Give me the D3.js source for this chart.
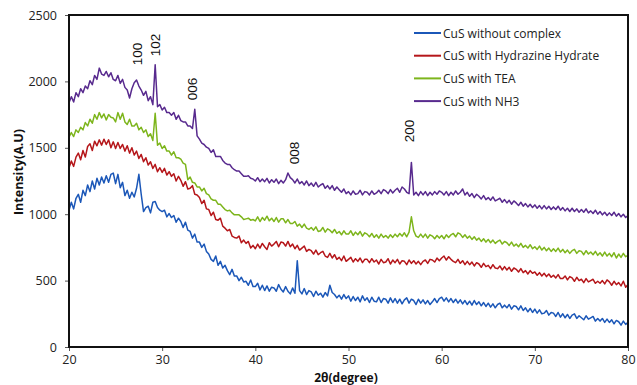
<!DOCTYPE html>
<html><head><meta charset="utf-8">
<script src="https://cdn.jsdelivr.net/npm/d3@7"></script>
<style>body{margin:0;background:#fff}svg{display:block}</style>
</head><body><div id="chart"></div>
<script>
// 2θ grid: 20 .. 80 in 0.25° steps (241 points)
const twoTheta = d3.range(0, 241).map(i => 20 + i * 0.25);

const cusWithoutComplex = [
1030,1090,1040,1120, 1150,1090,1180,1140, 1220,1170,1250,1190, 1270,1220,1280,1235,
1290,1240,1300,1310, 1230,1300,1200,1240, 1140,1180,1120,1165, 1130,1195,1300,1150,
1020,1050,1060,1010, 1090,1095,1050,1030, 1020,1030,980,1005, 975,990,940,970,
945,900,940,880, 870,820,850,790, 790,750,775,720, 700,660,645,685,
615,645,595,615, 575,545,585,535, 535,500,525,490, 495,465,505,455,
455,480,430,465, 425,460,420,450, 445,420,470,435, 415,455,420,400,
445,405,650,425, 400,440,395,425, 415,380,420,390, 405,375,410,385,
465,410,395,370, 390,360,395,365, 385,345,380,350, 375,340,385,350,
370,335,375,345, 340,375,335,365, 360,330,370,335, 365,330,360,325,
355,370,330,360, 350,320,360,330, 355,325,350,320, 340,365,335,365,
375,345,370,340, 365,335,360,330, 355,325,350,320, 345,315,350,320,
340,310,335,305, 330,300,325,295, 320,330,295,315, 295,320,285,310,
305,280,310,275, 295,265,290,260, 285,255,280,250, 255,275,240,260,
255,230,260,225, 250,220,245,215, 240,250,215,235, 220,205,235,210,
220,230,195,215, 195,215,185,210, 185,205,175,200, 190,165,195,170,
185];

const cusHydrazine = [
1350,1400,1360,1430, 1460,1410,1480,1430, 1510,1530,1480,1550, 1515,1560,1520,1565,
1525,1560,1500,1545, 1495,1540,1495,1525, 1475,1515,1460,1500, 1445,1475,1420,1450,
1395,1425,1370,1395, 1345,1375,1320,1350, 1315,1345,1295,1320, 1285,1305,1250,1285,
1255,1210,1245,1190, 1195,1215,1150,1145, 1125,1080,1105,1040, 1035,990,1015,960,
955,970,910,895, 875,885,835,825, 820,835,785,805, 780,795,745,765,
740,775,745,780, 755,735,785,760, 775,795,755,790, 785,760,795,755,
775,740,765,730, 745,760,720,735, 725,700,730,695, 710,720,685,675,
705,670,695,660, 675,650,685,645, 660,675,640,665, 645,670,635,660,
660,635,665,640, 655,625,660,635, 640,665,625,655, 635,660,625,650,
645,620,655,630, 650,625,645,620, 645,655,630,660, 655,640,670,650,
670,685,655,680, 660,645,635,660, 630,650,620,645, 620,640,610,635,
625,600,630,605, 615,590,620,595, 590,610,580,605, 580,600,570,595,
585,565,590,560, 575,550,575,555, 565,540,560,535, 555,530,550,525,
540,520,545,515, 515,535,505,530, 520,495,525,500, 510,485,515,490,
500,510,480,495, 480,500,475,505, 490,465,495,470, 485,460,495,450,
470];

const cusTEA = [
1580,1615,1585,1635, 1615,1655,1635,1690, 1665,1715,1685,1750, 1715,1765,1725,1755,
1710,1750,1730,1725, 1695,1765,1715,1760, 1695,1675,1715,1665, 1665,1685,1635,1655,
1615,1635,1585,1605, 1555,1760,1520,1535, 1495,1515,1475,1475, 1445,1470,1425,1425,
1415,1385,1375,1260, 1280,1240,1235,1205, 1205,1175,1195,1155, 1145,1115,1105,1105,
1075,1075,1055,1035, 1025,1030,1010,995, 995,995,980,960, 965,970,955,960,
950,980,945,975, 955,985,950,970, 945,975,940,965, 965,935,960,930,
930,945,910,925, 900,925,895,885, 900,880,905,870, 875,900,865,890,
880,860,885,855, 870,845,875,850, 850,875,840,865, 845,870,835,860,
850,830,855,825, 845,820,850,825, 840,820,845,825, 850,830,855,835,
860,830,865,980, 875,835,825,850, 825,850,820,845, 835,815,840,820,
840,815,845,825, 845,855,830,860, 850,825,845,820, 835,810,830,805,
820,795,815,790, 810,785,805,780, 795,805,775,795, 785,765,790,760,
775,755,780,750, 765,745,770,740, 755,735,760,730, 750,725,745,720,
740,720,745,715, 735,710,730,705, 725,735,705,725, 720,695,725,700,
715,695,720,690, 710,685,715,685, 705,680,710,670, 700,675,705,680,
690];

const cusNH3 = [
1840,1885,1845,1915, 1885,1945,1915,1965, 1945,2005,1975,2045, 2015,2100,2055,2045,
2075,2035,2065,2015, 2005,2045,1985,2015, 1955,1935,1875,1945, 1990,2010,1965,1935,
1895,1925,1855,1885, 1825,2125,1810,1825, 1785,1805,1765,1765, 1745,1765,1715,1745,
1705,1695,1695,1665, 1665,1645,1790,1590, 1565,1535,1525,1505, 1495,1465,1485,1435,
1435,1435,1405,1385, 1375,1375,1350,1335, 1325,1325,1305,1285, 1285,1290,1270,1265,
1250,1275,1245,1265, 1245,1270,1235,1260, 1240,1265,1230,1255, 1235,1260,1310,1275,
1260,1235,1265,1230, 1245,1220,1250,1215, 1235,1210,1240,1205, 1220,1230,1195,1215,
1190,1215,1180,1205, 1185,1165,1190,1155, 1170,1145,1175,1150, 1155,1180,1145,1170,
1165,1145,1175,1150, 1160,1180,1155,1185, 1175,1155,1185,1160, 1180,1195,1165,1205,
1190,1165,1155,1390, 1145,1165,1140,1170, 1145,1170,1140,1165, 1145,1170,1150,1175,
1165,1145,1170,1140, 1165,1145,1175,1150, 1165,1190,1145,1165, 1135,1155,1125,1150,
1135,1115,1140,1110, 1125,1105,1130,1100, 1110,1120,1090,1110, 1085,1105,1075,1100,
1085,1065,1090,1060, 1080,1055,1075,1050, 1070,1045,1065,1040, 1065,1040,1060,1035,
1055,1035,1060,1030, 1050,1025,1045,1020, 1045,1020,1040,1015, 1035,1015,1040,1010,
1025,1005,1030,1000, 1020,995,1015,990, 1010,990,1015,985, 1005,980,1000,975,
990];

const seriesNames = ["CuS without complex", "CuS with Hydrazine Hydrate", "CuS with TEA", "CuS with NH3"];
const seriesColors = ["#1b57b8", "#b5161a", "#7db51c", "#582a8e"];
const seriesValues = [cusWithoutComplex, cusHydrazine, cusTEA, cusNH3];

const xTicks = [20, 30, 40, 50, 60, 70, 80];
const yTicks = [0, 500, 1000, 1500, 2000, 2500];

const peakLabels = ["100", "102", "006", "008", "200"];
const peakX = [27.3, 29.3, 33.3, 44.25, 56.6];
const peakY = [2206, 2274, 1943, 1461, 1626];

const W = 637, H = 385;
const m = {left: 69, right: 9, top: 15, bottom: 38};
const svg = d3.select("#chart").append("svg").attr("width", W).attr("height", H);

const x = d3.scaleLinear().domain([20, 80]).range([m.left, W - m.right]);
const y = d3.scaleLinear().domain([0, 2500]).range([H - m.bottom, m.top]);

const tickFont = "'Open Sans', sans-serif";

// axes
const xAxis = svg.append("g").attr("transform", `translate(0,${H - m.bottom})`)
  .call(d3.axisBottom(x).tickValues(xTicks).tickSize(4).tickPadding(4).tickFormat(d3.format("d")));
const yAxis = svg.append("g").attr("transform", `translate(${m.left},0)`)
  .call(d3.axisLeft(y).tickValues(yTicks).tickSize(4).tickPadding(8).tickFormat(d3.format("d")));
[xAxis, yAxis].forEach(g => {
  g.select(".domain").remove();
  g.selectAll(".tick line").attr("stroke", "#555").attr("stroke-width", 1);
  g.selectAll(".tick text").attr("fill", "#222").style("font-family", tickFont).style("font-size", "12.5px");
});

// lines
const line = d3.line().x((d, i) => x(twoTheta[i])).y(d => y(d));
seriesValues.forEach((vals, k) => {
  svg.append("path").datum(vals).attr("d", line)
    .attr("fill", "none").attr("stroke", seriesColors[k]).attr("stroke-width", 1.5)
    .attr("stroke-linejoin", "round");
});

// frame
svg.append("rect").attr("x", m.left).attr("y", m.top)
  .attr("width", W - m.right - m.left).attr("height", H - m.bottom - m.top)
  .attr("fill", "none").attr("stroke", "#111").attr("stroke-width", 2);

// peak labels
peakLabels.forEach((t, i) => {
  const px = x(peakX[i]), py = y(peakY[i]);
  svg.append("text").text(t)
    .attr("transform", `translate(${px},${py}) rotate(-90)`)
    .attr("text-anchor", "middle").attr("dominant-baseline", "central")
    .style("font-family", "'Liberation Sans', Arial, sans-serif").style("font-size", "13.5px").attr("fill", "#111");
});

// legend
const lg = svg.append("g").attr("transform", "translate(414,33)");
seriesNames.forEach((n, i) => {
  const g = lg.append("g").attr("transform", `translate(0,${i * 22.7})`);
  g.append("line").attr("x1", 0).attr("x2", 27).attr("stroke", seriesColors[i]).attr("stroke-width", 2);
  g.append("text").text(n).attr("x", 29).attr("dominant-baseline", "central")
    .style("font-family", tickFont).style("font-size", "12px").attr("fill", "#222");
});

// axis titles
svg.append("text").text("Intensity(A.U)")
  .attr("transform", "translate(18,172) rotate(-90)")
  .attr("text-anchor", "middle").attr("dominant-baseline", "central")
  .style("font-family", tickFont).style("font-weight", "bold").style("font-size", "12.5px").attr("fill", "#111");
svg.append("text").text("2θ(degree)")
  .attr("x", 346).attr("y", 377.5)
  .attr("text-anchor", "middle").attr("dominant-baseline", "central")
  .style("font-family", tickFont).style("font-weight", "bold").style("font-size", "12px").attr("fill", "#111");
</script></body></html>
